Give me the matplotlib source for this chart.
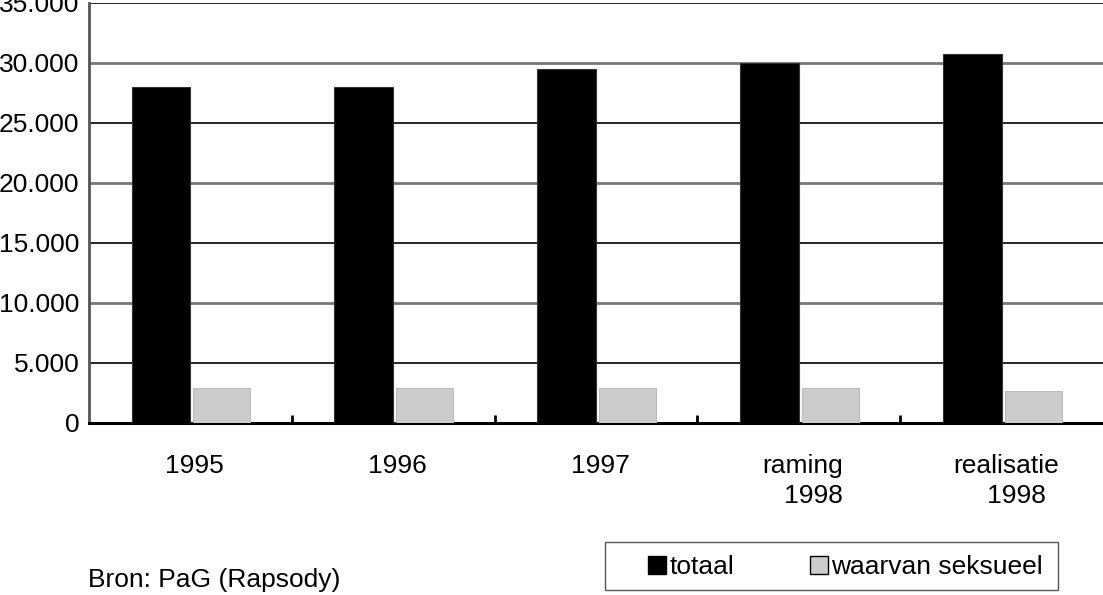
import matplotlib
matplotlib.use("Agg")
import matplotlib.pyplot as plt
import numpy as np
from matplotlib.patches import Patch, Rectangle

plt.rcParams['font.family'] = ['Liberation Sans', 'DejaVu Sans']

categories = ["1995", "1996", "1997", "raming\n   1998", "realisatie\n   1998"]
totaal = [28000, 28000, 29500, 30000, 30750]
seksueel = [2900, 2900, 2900, 2900, 2700]
yticks = [0, 5000, 10000, 15000, 20000, 25000, 30000, 35000]
ylabels = ["0", "5.000", "10.000", "15.000", "20.000", "25.000", "30.000", "35.000"]

W, H = 1103, 595
fig = plt.figure(figsize=(W / 100, H / 100), dpi=100)
ax = fig.add_axes([89 / W, 1 - 423 / H, 1 - 89 / W, 420 / H])

x = np.arange(len(categories))
width = 0.29
ax.bar(x - width / 2, totaal, width, color="black", edgecolor="#333333", lw=0.8, zorder=3)
ax.bar(x + width / 2 + 0.01, seksueel, width * 0.97, color="#cccccc", edgecolor="#bbbbbb", lw=0.8, zorder=3)

# alternating grid lines like the original
for i, v in enumerate(yticks[1:]):
    if i % 2 == 0:
        ax.axhline(v, color="#000000", lw=1.2, zorder=1)
    else:
        ax.axhline(v, color="#777777", lw=2, zorder=1)

ax.set_xlim(-0.5, len(categories) - 0.5)
ax.set_ylim(0, 35000)
ax.set_yticks(yticks)
ax.set_yticklabels(ylabels, fontsize=19)
ax.tick_params(axis="y", length=0, pad=7)

ax.set_xticks(x + 0.02)
ax.set_xticklabels(categories, fontsize=19, linespacing=1.35)
ax.tick_params(axis="x", which="major", length=0, pad=22)
ax.set_xticks(np.arange(len(categories) - 1) + 0.5, minor=True)
ax.tick_params(axis="x", which="minor", direction="in", length=6, width=2, color="black")

for s in ["top", "right"]:
    ax.spines[s].set_visible(False)
ax.spines["left"].set_color("#555555")
ax.spines["left"].set_linewidth(2)
ax.spines["bottom"].set_color("black")
ax.spines["bottom"].set_linewidth(2.2)

# legend box drawn separately to get the same padding as the original
fig.patches.append(Rectangle((605 / W, 1 - 590 / H), 453 / W, 48 / H, transform=fig.transFigure,
                             facecolor="white", edgecolor="#555555", lw=1))
handles = [Patch(facecolor="black", edgecolor="black", label="totaal"),
           Patch(facecolor="#cccccc", edgecolor="black", label="waarvan seksueel")]
fig.legend(handles=handles, loc="center left", bbox_to_anchor=(648 / W, 1 - 567 / H),
           ncol=2, fontsize=19, frameon=False, borderpad=0, borderaxespad=0,
           handlelength=0.7, handleheight=0.7, handletextpad=0.12, columnspacing=2.85)

fig.text(88 / W, 1 - 587 / H, "Bron: PaG (Rapsody)", fontsize=19, va="baseline")

fig.savefig("out.png", dpi=100)
